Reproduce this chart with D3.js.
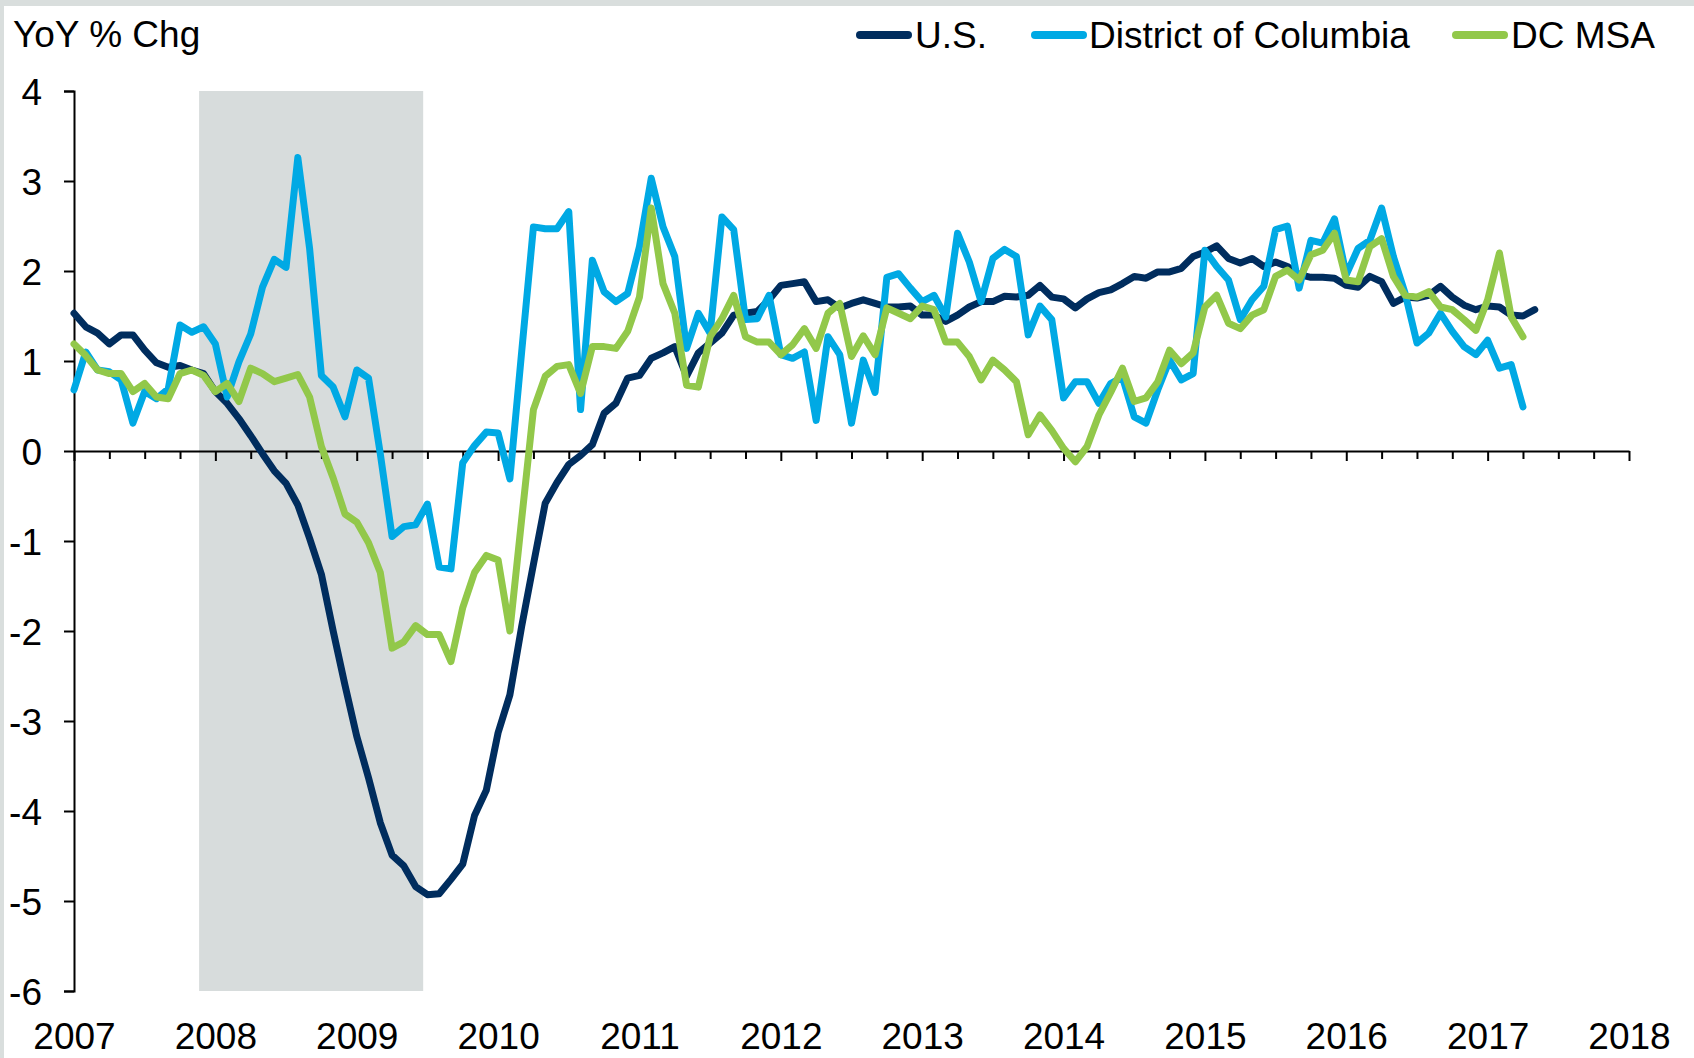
<!DOCTYPE html>
<html>
<head>
<meta charset="utf-8">
<script src="https://cdn.jsdelivr.net/npm/d3@7"></script>
<style>
  html, body { margin: 0; padding: 0; background: #d9dedd; }
  svg { display: block; }
  text { font-family: "Liberation Sans", Arial, Helvetica, sans-serif; fill: #000; }
</style>
</head>
<body>
<script>
// ---------- data (monthly, starting Jan 2007) ----------
const startYear = 2007;
const yearLabels = [2007, 2008, 2009, 2010, 2011, 2012, 2013, 2014, 2015, 2016, 2017, 2018];
const yTickValues = [-6, -5, -4, -3, -2, -1, 0, 1, 2, 3, 4];
const recession = [2007.885, 2009.47];
const seriesNames = ["U.S.", "District of Columbia", "DC MSA"];

const usValues = [
  1.53, 1.38, 1.31, 1.19, 1.29, 1.29, 1.12, 0.98, 0.93, 0.95, 0.90, 0.86,
  0.66, 0.53, 0.36, 0.17, -0.03, -0.22, -0.36, -0.60, -0.97, -1.37, -2.00, -2.60,
  -3.17, -3.63, -4.13, -4.49, -4.61, -4.84, -4.93, -4.92, -4.76, -4.59, -4.05, -3.77,
  -3.13, -2.71, -1.95, -1.26, -0.58, -0.35, -0.15, -0.05, 0.07, 0.42, 0.53, 0.81,
  0.84, 1.03, 1.09, 1.16, 0.83, 1.09, 1.20, 1.31, 1.51, 1.53, 1.55, 1.68,
  1.84, 1.86, 1.88, 1.66, 1.68, 1.59, 1.64, 1.68, 1.64, 1.60, 1.60, 1.61,
  1.51, 1.51, 1.44, 1.51, 1.60, 1.66, 1.66, 1.72, 1.71, 1.73, 1.84, 1.71,
  1.69, 1.59, 1.69, 1.76, 1.79, 1.86, 1.94, 1.92, 1.99, 1.99, 2.03, 2.16,
  2.21, 2.28, 2.14, 2.09, 2.14, 2.05, 2.10, 2.05, 1.96, 1.93, 1.93, 1.92,
  1.84, 1.82, 1.94, 1.88, 1.64, 1.71, 1.70, 1.73, 1.83, 1.71, 1.62, 1.57,
  1.61, 1.60, 1.51, 1.50, 1.57
];

const dcValues = [
  0.68, 1.10, 0.90, 0.88, 0.79, 0.31, 0.66, 0.58, 0.69, 1.40, 1.32, 1.38,
  1.19, 0.60, 0.99, 1.30, 1.82, 2.13, 2.04, 3.26, 2.25, 0.84, 0.71, 0.38,
  0.90, 0.81, -0.03, -0.95, -0.84, -0.82, -0.59, -1.29, -1.31, -0.13, 0.06, 0.21,
  0.20, -0.31, 1.10, 2.49, 2.47, 2.47, 2.66, 0.46, 2.12, 1.77, 1.66, 1.75,
  2.27, 3.03, 2.49, 2.16, 1.14, 1.53, 1.31, 2.60, 2.46, 1.46, 1.47, 1.73,
  1.07, 1.03, 1.10, 0.34, 1.27, 1.07, 0.31, 1.01, 0.65, 1.93, 1.97, 1.81,
  1.66, 1.73, 1.49, 2.42, 2.10, 1.66, 2.14, 2.24, 2.16, 1.29, 1.61, 1.46,
  0.59, 0.77, 0.77, 0.53, 0.75, 0.82, 0.38, 0.31, 0.68, 1.01, 0.79, 0.86,
  2.23, 2.05, 1.90, 1.46, 1.68, 1.83, 2.46, 2.50, 1.81, 2.34, 2.31, 2.58,
  1.96, 2.25, 2.34, 2.70, 2.16, 1.75, 1.20, 1.31, 1.53, 1.33, 1.16, 1.07,
  1.23, 0.92, 0.96, 0.49
];

const msaValues = [
  1.19, 1.06, 0.90, 0.86, 0.86, 0.66, 0.75, 0.60, 0.58, 0.86, 0.90, 0.84,
  0.66, 0.75, 0.55, 0.92, 0.86, 0.77, 0.81, 0.85, 0.60, 0.05, -0.30, -0.70,
  -0.79, -1.02, -1.35, -2.19, -2.12, -1.94, -2.04, -2.04, -2.34, -1.74, -1.35, -1.16,
  -1.21, -2.00, -0.76, 0.46, 0.83, 0.94, 0.96, 0.64, 1.16, 1.16, 1.14, 1.33,
  1.71, 2.70, 1.86, 1.53, 0.73, 0.71, 1.27, 1.47, 1.73, 1.27, 1.21, 1.21,
  1.07, 1.18, 1.36, 1.14, 1.53, 1.64, 1.05, 1.28, 1.07, 1.59, 1.53, 1.47,
  1.61, 1.57, 1.21, 1.21, 1.05, 0.79, 1.01, 0.90, 0.77, 0.18, 0.40, 0.23,
  0.03, -0.12, 0.05, 0.40, 0.65, 0.92, 0.55, 0.59, 0.77, 1.12, 0.97, 1.09,
  1.60, 1.73, 1.42, 1.36, 1.51, 1.57, 1.94, 2.01, 1.90, 2.18, 2.23, 2.42,
  1.90, 1.88, 2.27, 2.36, 1.94, 1.73, 1.71, 1.77, 1.60, 1.57, 1.46, 1.34,
  1.68, 2.20, 1.49, 1.27
];

// ---------- layout ----------
const W = 1694, H = 1058;
const colors = ["#002D5E", "#00A9E4", "#92C84A"];
const FONT = "37px";

const svg = d3.select("body").append("svg").attr("width", W).attr("height", H);
svg.append("rect").attr("x", 4).attr("y", 6).attr("width", W - 4).attr("height", H - 6).attr("fill", "#fff");

const x = d3.scaleLinear().domain([2007, 2018]).range([74, 1629]);
const y = d3.scaleLinear().domain([-6, 4]).range([991, 91]);

// recession shading
svg.append("rect")
  .attr("x", x(recession[0])).attr("width", x(recession[1]) - x(recession[0]))
  .attr("y", y(4)).attr("height", y(-6) - y(4))
  .attr("fill", "#d7dcdc");

// y axis
const yAxis = svg.append("g").attr("transform", `translate(${x(2007)},0)`)
  .call(d3.axisLeft(y).tickValues(yTickValues).tickSize(10).tickPadding(22).tickFormat(d => String(d)));
yAxis.select(".domain").attr("stroke", "#000").attr("stroke-width", 2);
yAxis.selectAll(".tick line").attr("stroke", "#000").attr("stroke-width", 2);
yAxis.selectAll(".tick text").style("font-size", FONT).attr("dy", "0.36em");

// x axis (at zero) with quarterly ticks
const quarterTicks = d3.range(0, 45).map(i => 2007 + i * 0.25);
const xAxis = svg.append("g").attr("transform", `translate(0,${y(0)})`)
  .call(d3.axisBottom(x).tickValues(quarterTicks).tickSize(8).tickSizeOuter(0).tickFormat(""));
xAxis.select(".domain").attr("stroke", "#000").attr("stroke-width", 2);
xAxis.selectAll(".tick line").attr("stroke", "#000").attr("stroke-width", 2)
  .attr("y2", d => Number.isInteger(d) ? 10 : 8);

// year labels at bottom
const xLab = svg.append("g").attr("transform", `translate(0,1049)`)
  .call(d3.axisBottom(x).tickValues(yearLabels).tickSize(0).tickFormat(d3.format("d")));
xLab.select(".domain").remove();
xLab.selectAll(".tick text").attr("y", 0).attr("dy", 0).style("font-size", FONT);

// lines
const line = d3.line().x((d, i) => x(startYear + i / 12)).y(d => y(d));
[usValues, dcValues, msaValues].forEach((vals, k) => {
  svg.append("path").datum(vals)
    .attr("d", line)
    .attr("fill", "none")
    .attr("stroke", colors[k])
    .attr("stroke-width", 7)
    .attr("stroke-linejoin", "round")
    .attr("stroke-linecap", "round");
});

// title
svg.append("text").attr("x", 13).attr("y", 47).style("font-size", FONT).text("YoY % Chg");

// legend
const legendItems = [
  { x1: 860, x2: 908, tx: 915 },
  { x1: 1035, x2: 1083, tx: 1089 },
  { x1: 1456, x2: 1504, tx: 1511 }
];
legendItems.forEach((it, k) => {
  svg.append("line").attr("x1", it.x1).attr("x2", it.x2).attr("y1", 35).attr("y2", 35)
    .attr("stroke", colors[k]).attr("stroke-width", 8).attr("stroke-linecap", "round");
  svg.append("text").attr("x", it.tx).attr("y", 48).style("font-size", FONT).text(seriesNames[k]);
});
</script>
</body>
</html>
